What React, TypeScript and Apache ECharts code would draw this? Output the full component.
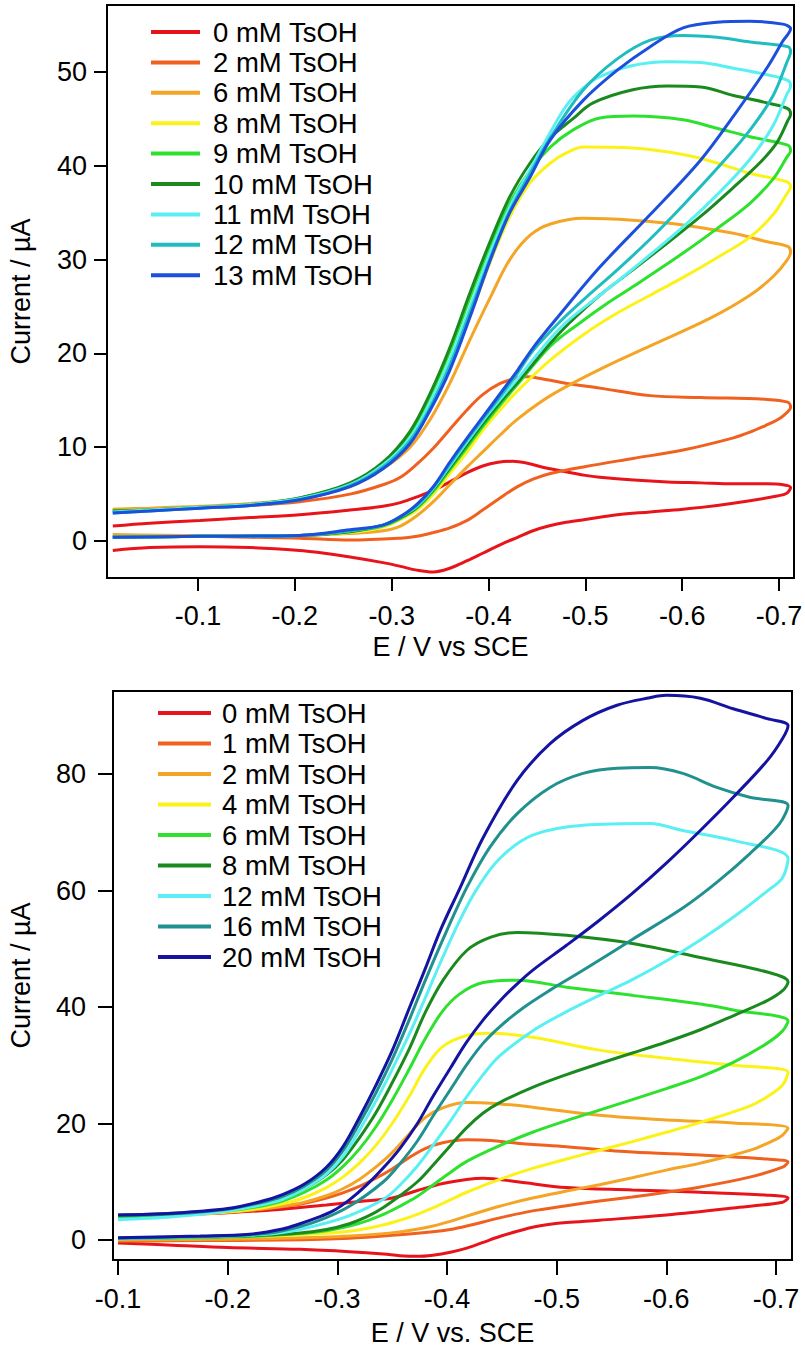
import React, { useEffect, useRef } from "react";
import * as echarts from "echarts";

const FONT = 'Arial, "Liberation Sans", Helvetica, sans-serif';

// ---------- top panel ----------
const topLabels = ["0 mM TsOH", "2 mM TsOH", "6 mM TsOH", "8 mM TsOH", "9 mM TsOH", "10 mM TsOH", "11 mM TsOH", "12 mM TsOH", "13 mM TsOH"];
const topColors = ["#e8141c", "#f0601e", "#f4a526", "#fbf21a", "#2ee12e", "#1a8a1f", "#5af0f3", "#1fbcc0", "#1c4fdc"];
const topXTicks = [-0.1, -0.2, -0.3, -0.4, -0.5, -0.6, -0.7];
const topYTicks = [0, 10, 20, 30, 40, 50];

const top0 = [[-0.012,1.6],[-0.05,1.9],[-0.102,2.2],[-0.154,2.5],[-0.205,2.8],[-0.257,3.3],[-0.291,3.7],[-0.309,4.1],[-0.326,4.7],[-0.343,5.4],[-0.36,6.3],[-0.378,7.3],[-0.394,8.0],[-0.41,8.4],[-0.425,8.5],[-0.44,8.3],[-0.455,7.9],[-0.474,7.5],[-0.5,7.0],[-0.515,6.8],[-0.55,6.5],[-0.585,6.3],[-0.619,6.2],[-0.653,6.1],[-0.688,6.1],[-0.704,6.0],[-0.712,5.7],
  [-0.708,5.1],[-0.698,4.8],[-0.67,4.3],[-0.636,3.8],[-0.601,3.4],[-0.567,3.1],[-0.533,2.8],[-0.5,2.3],[-0.48,2.0],[-0.462,1.6],[-0.446,1.1],[-0.43,0.4],[-0.412,-0.4],[-0.394,-1.3],[-0.378,-2.1],[-0.36,-2.9],[-0.343,-3.3],[-0.326,-3.1],[-0.309,-2.7],[-0.291,-2.3],[-0.257,-1.7],[-0.223,-1.2],[-0.205,-1.0],[-0.154,-0.7],[-0.102,-0.6],[-0.05,-0.7],[-0.012,-1.0]];
const top2 = [[-0.012,3.3],[-0.05,3.4],[-0.102,3.6],[-0.154,3.8],[-0.205,4.2],[-0.257,5.0],[-0.291,6.0],[-0.309,6.8],[-0.326,8.2],[-0.343,9.9],[-0.36,11.9],[-0.378,14.0],[-0.394,15.6],[-0.412,16.8],[-0.43,17.4],[-0.44,17.5],[-0.455,17.3],[-0.481,16.8],[-0.515,16.3],[-0.567,15.5],[-0.619,15.3],[-0.688,15.1],[-0.709,14.8],[-0.712,14.3],
  [-0.705,13.4],[-0.698,12.9],[-0.688,12.4],[-0.67,11.6],[-0.653,11.0],[-0.601,9.7],[-0.549,8.8],[-0.498,7.9],[-0.464,7.2],[-0.446,6.6],[-0.43,5.8],[-0.412,4.6],[-0.394,3.3],[-0.378,2.2],[-0.36,1.4],[-0.343,0.9],[-0.326,0.5],[-0.309,0.3],[-0.257,0.1],[-0.205,0.3],[-0.154,0.4],[-0.102,0.5],[-0.012,0.6]];
const top6 = [[-0.012,3.4],[-0.05,3.5],[-0.102,3.7],[-0.154,4.0],[-0.205,4.5],[-0.257,5.8],[-0.291,7.7],[-0.319,10.0],[-0.34,13.0],[-0.36,16.8],[-0.381,21.5],[-0.402,26.0],[-0.422,30.0],[-0.443,32.6],[-0.464,33.8],[-0.498,34.4],[-0.549,34.2],[-0.601,33.7],[-0.653,32.8],[-0.688,31.9],[-0.709,31.4],[-0.712,30.8],
  [-0.708,29.9],[-0.694,28.2],[-0.67,26.2],[-0.628,23.7],[-0.567,20.8],[-0.515,18.3],[-0.464,15.5],[-0.43,13.0],[-0.412,11.3],[-0.394,9.5],[-0.378,7.9],[-0.36,6.0],[-0.343,4.2],[-0.326,2.7],[-0.309,1.6],[-0.291,1.1],[-0.257,0.8],[-0.205,0.6],[-0.102,0.6],[-0.012,0.7]];
const top8 = [[-0.012,3.2],[-0.05,3.3],[-0.102,3.6],[-0.154,3.9],[-0.205,4.5],[-0.257,5.9],[-0.291,7.9],[-0.319,10.6],[-0.34,14.2],[-0.36,18.5],[-0.381,24.0],[-0.402,29.8],[-0.422,34.6],[-0.443,38.2],[-0.464,40.3],[-0.481,41.4],[-0.498,42.0],[-0.549,41.9],[-0.601,41.2],[-0.636,40.3],[-0.67,39.2],[-0.708,38.3],[-0.712,37.8],
  [-0.708,37.0],[-0.694,34.8],[-0.67,32.4],[-0.636,30.2],[-0.601,28.1],[-0.567,26.2],[-0.533,24.3],[-0.498,22.0],[-0.464,19.3],[-0.43,16.0],[-0.412,14.0],[-0.394,11.8],[-0.378,9.5],[-0.36,7.2],[-0.343,5.0],[-0.326,3.3],[-0.309,2.3],[-0.291,1.5],[-0.257,0.9],[-0.205,0.6],[-0.102,0.5],[-0.012,0.4]];
const top9 = [[-0.012,3.2],[-0.05,3.3],[-0.102,3.6],[-0.154,3.9],[-0.205,4.6],[-0.257,6.1],[-0.291,8.3],[-0.319,11.5],[-0.34,15.5],[-0.36,20.2],[-0.381,26.0],[-0.402,31.5],[-0.422,36.0],[-0.443,39.5],[-0.464,42.0],[-0.487,43.8],[-0.515,45.1],[-0.549,45.3],[-0.601,44.9],[-0.636,44.0],[-0.67,43.1],[-0.709,42.2],[-0.712,41.6],
  [-0.708,40.9],[-0.694,38.6],[-0.67,36.0],[-0.636,33.3],[-0.601,30.7],[-0.549,27.1],[-0.522,25.3],[-0.495,23.3],[-0.464,20.8],[-0.43,16.7],[-0.412,14.5],[-0.394,12.2],[-0.378,10.0],[-0.36,7.6],[-0.343,5.3],[-0.326,3.5],[-0.309,2.4],[-0.291,1.6],[-0.257,1.0],[-0.205,0.6],[-0.102,0.5],[-0.012,0.4]];
const top10 = [[-0.012,3.2],[-0.05,3.3],[-0.102,3.6],[-0.154,3.9],[-0.205,4.6],[-0.257,6.2],[-0.291,8.4],[-0.319,11.7],[-0.34,15.8],[-0.36,20.6],[-0.381,26.5],[-0.402,32.0],[-0.422,36.7],[-0.443,40.3],[-0.464,43.0],[-0.487,45.0],[-0.508,46.7],[-0.549,48.1],[-0.585,48.5],[-0.619,48.4],[-0.653,47.5],[-0.688,46.7],[-0.709,46.1],[-0.712,45.5],
  [-0.709,44.8],[-0.698,42.5],[-0.681,40.4],[-0.653,37.7],[-0.619,34.6],[-0.585,31.8],[-0.549,28.9],[-0.515,26.2],[-0.484,23.3],[-0.464,21.1],[-0.43,16.9],[-0.412,14.8],[-0.394,12.5],[-0.378,10.3],[-0.36,7.8],[-0.343,5.5],[-0.326,3.6],[-0.309,2.5],[-0.291,1.7],[-0.257,1.0],[-0.205,0.6],[-0.102,0.5],[-0.012,0.4]];
const top11 = [[-0.012,3.1],[-0.05,3.3],[-0.102,3.6],[-0.154,3.9],[-0.205,4.5],[-0.257,6.0],[-0.291,8.1],[-0.319,11.0],[-0.34,14.8],[-0.36,19.3],[-0.381,25.0],[-0.402,30.8],[-0.422,35.6],[-0.443,39.6],[-0.464,43.6],[-0.481,46.5],[-0.498,48.3],[-0.515,49.5],[-0.549,50.7],[-0.585,51.1],[-0.619,51.0],[-0.653,50.4],[-0.688,49.7],[-0.709,49.1],[-0.712,48.5],
  [-0.708,47.6],[-0.694,44.3],[-0.67,40.7],[-0.636,36.9],[-0.601,33.5],[-0.549,29.0],[-0.515,26.2],[-0.481,23.4],[-0.464,21.6],[-0.43,17.3],[-0.412,15.1],[-0.394,12.8],[-0.378,10.6],[-0.36,8.0],[-0.343,5.6],[-0.326,3.7],[-0.309,2.6],[-0.291,1.7],[-0.257,1.1],[-0.205,0.6],[-0.102,0.5],[-0.012,0.4]];
const top12 = [[-0.012,3.0],[-0.05,3.2],[-0.102,3.5],[-0.154,3.8],[-0.205,4.4],[-0.257,5.9],[-0.291,7.9],[-0.319,10.7],[-0.34,14.3],[-0.36,18.7],[-0.381,24.4],[-0.402,30.2],[-0.422,35.2],[-0.443,39.2],[-0.464,43.0],[-0.498,48.1],[-0.533,51.4],[-0.567,53.4],[-0.601,53.9],[-0.636,53.7],[-0.67,53.2],[-0.709,52.7],[-0.712,52.2],
  [-0.708,51.0],[-0.694,47.5],[-0.67,43.8],[-0.636,39.7],[-0.601,35.8],[-0.567,32.2],[-0.533,28.9],[-0.5,25.9],[-0.474,23.4],[-0.446,20.3],[-0.43,17.9],[-0.412,15.4],[-0.394,13.0],[-0.378,10.8],[-0.36,8.2],[-0.343,5.7],[-0.326,3.8],[-0.309,2.6],[-0.291,1.7],[-0.257,1.1],[-0.205,0.6],[-0.102,0.5],[-0.012,0.4]];
const top13 = [[-0.012,3.0],[-0.05,3.2],[-0.102,3.5],[-0.154,3.8],[-0.205,4.4],[-0.257,5.8],[-0.291,7.7],[-0.319,10.4],[-0.34,14.0],[-0.36,18.2],[-0.381,23.9],[-0.402,30.0],[-0.422,35.0],[-0.443,38.8],[-0.464,42.8],[-0.498,47.0],[-0.533,50.2],[-0.567,52.7],[-0.601,54.7],[-0.636,55.3],[-0.67,55.4],[-0.704,55.1],[-0.712,54.6],
  [-0.704,53.3],[-0.688,50.5],[-0.653,45.3],[-0.619,40.6],[-0.567,34.8],[-0.515,29.2],[-0.471,23.8],[-0.446,20.6],[-0.43,18.2],[-0.412,15.7],[-0.394,13.2],[-0.378,11.0],[-0.36,8.4],[-0.343,5.8],[-0.326,3.9],[-0.309,2.6],[-0.291,1.7],[-0.257,1.2],[-0.205,0.6],[-0.102,0.5],[-0.012,0.4]];
const topCurves = [top0, top2, top6, top8, top9, top10, top11, top12, top13];

// ---------- bottom panel ----------
const bottomLabels = ["0 mM TsOH", "1 mM TsOH", "2 mM TsOH", "4 mM TsOH", "6 mM TsOH", "8 mM TsOH", "12 mM TsOH", "16 mM TsOH", "20 mM TsOH"];
const bottomColors = ["#e8141c", "#f0601e", "#f4a526", "#fbf21a", "#2ee12e", "#1a8a1f", "#5af0f3", "#21918f", "#1414a0"];
const bottomXTicks = [-0.1, -0.2, -0.3, -0.4, -0.5, -0.6, -0.7];
const bottomYTicks = [0, 20, 40, 60, 80];

const bot0 = [[-0.1,4.0],[-0.15,4.3],[-0.2,4.7],[-0.25,5.3],[-0.29,6.0],[-0.32,6.6],[-0.35,7.2],[-0.373,8.5],[-0.396,9.7],[-0.418,10.4],[-0.433,10.6],[-0.464,10.0],[-0.509,9.0],[-0.569,8.6],[-0.631,8.2],[-0.692,7.7],[-0.711,7.2],
  [-0.706,6.5],[-0.661,5.5],[-0.6,4.3],[-0.539,3.4],[-0.509,3.0],[-0.494,2.7],[-0.478,2.2],[-0.464,1.5],[-0.448,0.6],[-0.433,-0.4],[-0.418,-1.4],[-0.403,-2.1],[-0.387,-2.6],[-0.373,-2.8],[-0.357,-2.7],[-0.342,-2.4],[-0.311,-2.0],[-0.266,-1.6],[-0.2,-1.3],[-0.15,-0.9],[-0.1,-0.5]];
const bot1 = [[-0.1,4.1],[-0.15,4.4],[-0.2,4.9],[-0.23,5.3],[-0.25,5.7],[-0.27,6.3],[-0.29,7.2],[-0.305,8.1],[-0.32,9.2],[-0.335,10.6],[-0.35,12.2],[-0.366,14.2],[-0.38,15.7],[-0.396,16.7],[-0.418,17.2],[-0.44,17.1],[-0.464,16.6],[-0.509,16.0],[-0.569,15.1],[-0.631,14.6],[-0.692,13.9],[-0.711,13.4],
  [-0.706,12.5],[-0.676,10.8],[-0.631,9.1],[-0.6,8.2],[-0.569,7.4],[-0.539,6.7],[-0.509,5.9],[-0.478,5.0],[-0.448,3.8],[-0.418,2.4],[-0.403,1.8],[-0.387,1.4],[-0.357,0.9],[-0.311,0.3],[-0.25,0.0],[-0.175,-0.1],[-0.1,-0.2]];
const bot2 = [[-0.1,4.0],[-0.15,4.3],[-0.2,4.8],[-0.23,5.3],[-0.25,5.8],[-0.27,6.5],[-0.29,7.6],[-0.305,8.8],[-0.32,10.4],[-0.335,12.5],[-0.35,15.0],[-0.366,18.3],[-0.38,21.0],[-0.396,22.7],[-0.418,23.6],[-0.44,23.5],[-0.478,22.8],[-0.539,21.4],[-0.6,20.6],[-0.661,20.1],[-0.711,19.2],
  [-0.706,18.0],[-0.699,17.2],[-0.676,15.4],[-0.631,13.2],[-0.6,12.0],[-0.569,10.7],[-0.539,9.5],[-0.509,8.4],[-0.478,7.2],[-0.448,5.8],[-0.418,4.1],[-0.403,3.2],[-0.387,2.4],[-0.357,1.4],[-0.311,0.7],[-0.25,0.3],[-0.175,0.1],[-0.1,0.0]];
const bot4 = [[-0.1,3.9],[-0.15,4.2],[-0.2,4.8],[-0.23,5.5],[-0.25,6.2],[-0.27,7.3],[-0.29,9.0],[-0.305,10.8],[-0.32,13.2],[-0.335,16.2],[-0.35,20.0],[-0.366,24.8],[-0.38,29.5],[-0.396,33.2],[-0.418,35.1],[-0.44,35.5],[-0.478,34.8],[-0.539,32.6],[-0.6,31.2],[-0.661,30.0],[-0.711,28.8],
  [-0.706,26.6],[-0.692,24.6],[-0.676,23.0],[-0.631,20.2],[-0.6,18.5],[-0.569,16.9],[-0.539,15.4],[-0.509,13.9],[-0.478,12.3],[-0.448,10.4],[-0.418,8.2],[-0.403,6.9],[-0.387,5.5],[-0.373,4.4],[-0.357,3.4],[-0.342,2.6],[-0.311,1.5],[-0.266,0.9],[-0.2,0.5],[-0.1,0.2]];
const bot6 = [[-0.1,3.9],[-0.15,4.3],[-0.2,5.0],[-0.23,5.8],[-0.25,6.7],[-0.27,8.2],[-0.29,10.3],[-0.305,12.6],[-0.32,15.6],[-0.335,19.4],[-0.35,24.0],[-0.366,29.5],[-0.38,34.5],[-0.396,39.3],[-0.412,42.3],[-0.433,44.2],[-0.464,44.6],[-0.509,43.4],[-0.569,42.0],[-0.631,40.5],[-0.661,39.5],[-0.711,37.6],
  [-0.706,35.9],[-0.692,33.8],[-0.661,30.5],[-0.631,28.0],[-0.6,26.0],[-0.569,24.1],[-0.539,22.3],[-0.509,20.5],[-0.478,18.5],[-0.448,16.2],[-0.418,13.5],[-0.403,11.6],[-0.387,9.4],[-0.373,7.5],[-0.357,5.8],[-0.342,4.4],[-0.327,3.3],[-0.311,2.4],[-0.29,1.6],[-0.266,1.1],[-0.23,0.7],[-0.175,0.4],[-0.1,0.2]];
const bot8 = [[-0.1,4.3],[-0.15,4.6],[-0.2,5.3],[-0.23,6.2],[-0.25,7.2],[-0.27,8.8],[-0.29,11.2],[-0.305,13.8],[-0.32,17.5],[-0.335,21.8],[-0.35,27.0],[-0.366,33.0],[-0.38,39.0],[-0.396,44.5],[-0.418,49.7],[-0.44,52.0],[-0.464,52.8],[-0.509,52.3],[-0.569,50.9],[-0.631,48.5],[-0.692,46.0],[-0.711,44.3],
  [-0.706,42.8],[-0.692,41.1],[-0.661,38.5],[-0.631,36.1],[-0.6,34.0],[-0.569,32.1],[-0.539,30.3],[-0.509,28.4],[-0.478,26.2],[-0.448,23.6],[-0.433,21.8],[-0.418,19.3],[-0.403,16.2],[-0.387,12.8],[-0.373,10.0],[-0.357,7.6],[-0.342,5.6],[-0.327,4.0],[-0.311,2.8],[-0.29,1.8],[-0.266,1.2],[-0.23,0.8],[-0.175,0.5],[-0.1,0.3]];
const bot12 = [[-0.1,3.5],[-0.15,4.0],[-0.2,5.0],[-0.23,6.0],[-0.25,7.0],[-0.27,8.8],[-0.29,11.3],[-0.305,14.3],[-0.32,18.8],[-0.335,23.8],[-0.35,29.3],[-0.366,35.5],[-0.38,41.5],[-0.396,48.5],[-0.412,55.0],[-0.427,60.2],[-0.448,65.5],[-0.478,69.5],[-0.524,71.2],[-0.585,71.5],[-0.615,70.3],[-0.661,68.6],[-0.711,65.5],
  [-0.706,62.2],[-0.692,59.9],[-0.661,55.4],[-0.631,51.5],[-0.6,47.9],[-0.569,44.7],[-0.539,42.0],[-0.509,39.2],[-0.478,35.9],[-0.448,31.6],[-0.433,28.4],[-0.418,24.6],[-0.403,20.4],[-0.387,16.2],[-0.373,12.7],[-0.357,9.4],[-0.342,7.0],[-0.311,4.2],[-0.281,2.5],[-0.25,1.3],[-0.22,0.8],[-0.175,0.5],[-0.1,0.2]];
const bot16 = [[-0.1,4.2],[-0.15,4.5],[-0.2,5.3],[-0.23,6.4],[-0.25,7.5],[-0.27,9.3],[-0.29,12.0],[-0.305,15.3],[-0.32,20.0],[-0.335,25.2],[-0.35,31.0],[-0.366,38.0],[-0.38,44.5],[-0.4,53.2],[-0.418,60.5],[-0.439,67.4],[-0.464,73.2],[-0.494,77.7],[-0.524,80.1],[-0.555,81.0],[-0.585,81.1],[-0.615,80.1],[-0.646,77.7],[-0.676,76.0],[-0.711,74.6],
  [-0.703,71.4],[-0.676,66.3],[-0.646,61.4],[-0.615,57.0],[-0.569,51.6],[-0.524,46.3],[-0.494,42.9],[-0.469,39.8],[-0.448,36.6],[-0.433,33.8],[-0.418,30.1],[-0.403,25.8],[-0.387,21.2],[-0.373,17.0],[-0.357,13.1],[-0.342,10.0],[-0.311,5.8],[-0.281,3.2],[-0.25,1.6],[-0.22,0.9],[-0.175,0.6],[-0.1,0.3]];
const bot20 = [[-0.1,4.3],[-0.15,4.6],[-0.2,5.4],[-0.23,6.6],[-0.25,7.8],[-0.27,9.6],[-0.29,12.5],[-0.305,16.0],[-0.32,21.0],[-0.335,26.5],[-0.35,32.5],[-0.366,40.0],[-0.38,46.5],[-0.394,53.2],[-0.412,60.5],[-0.433,69.1],[-0.464,78.9],[-0.494,85.2],[-0.524,89.2],[-0.555,91.8],[-0.585,93.1],[-0.6,93.5],[-0.631,93.0],[-0.661,91.2],[-0.692,89.5],[-0.711,88.3],
  [-0.706,86.1],[-0.692,82.3],[-0.661,76.0],[-0.631,70.3],[-0.6,64.7],[-0.569,59.5],[-0.539,54.9],[-0.509,50.6],[-0.478,46.3],[-0.463,43.8],[-0.448,41.0],[-0.433,37.8],[-0.418,34.0],[-0.403,29.5],[-0.387,24.6],[-0.373,20.0],[-0.357,15.7],[-0.342,12.4],[-0.327,9.5],[-0.311,6.9],[-0.296,5.0],[-0.281,3.8],[-0.266,2.8],[-0.25,1.9],[-0.22,1.0],[-0.175,0.7],[-0.1,0.4]];
const bottomCurves = [bot0, bot1, bot2, bot4, bot6, bot8, bot12, bot16, bot20];

type PanelCfg = {
  grid: { left: number; top: number; width: number; height: number };
  xRange: [number, number];
  yRange: [number, number];
  xTicks: number[];
  yTicks: number[];
  tickLen: number;
  xLabelMargin: number;
  yLabelMargin: number;
  xName: string;
  xNameGap: number;
  yNameGap: number;
  legend: { left: number; top: number; itemWidth: number; textPad: number; gap: number };
  labels: string[];
  colors: string[];
  curves: number[][][];
};

function buildOption(c: PanelCfg) {
  const axisLine = { show: true, onZero: false, lineStyle: { color: "#000", width: 2 } };
  const labelStyle = { color: "#000", fontSize: 27, fontFamily: FONT };
  return {
    animation: false,
    backgroundColor: "#fff",
    grid: {
      ...c.grid,
      show: true,
      borderColor: "#000",
      borderWidth: 2,
      containLabel: false,
      outerBoundsMode: "none",
    },
    legend: {
      orient: "vertical",
      left: c.legend.left,
      top: c.legend.top,
      icon: "rect",
      itemWidth: c.legend.itemWidth,
      itemHeight: 4,
      itemGap: c.legend.gap,
      selectedMode: false,
      padding: 0,
      data: c.labels,
      textStyle: { color: "#000", fontSize: 27.5, fontFamily: FONT, lineHeight: 30, padding: [0, 0, 0, c.legend.textPad] },
    },
    xAxis: {
      type: "value",
      inverse: true,
      min: c.xRange[0],
      max: c.xRange[1],
      axisLine,
      axisTick: { show: true, inside: false, length: c.tickLen, lineStyle: { color: "#000", width: 2 }, customValues: c.xTicks },
      axisLabel: { ...labelStyle, margin: c.xLabelMargin, customValues: c.xTicks, formatter: (v: number) => v.toFixed(1) },
      splitLine: { show: false },
      name: c.xName,
      nameLocation: "middle",
      nameGap: c.xNameGap,
      nameMoveOverlap: false,
      nameTextStyle: labelStyle,
    },
    yAxis: {
      type: "value",
      min: c.yRange[0],
      max: c.yRange[1],
      axisLine,
      axisTick: { show: true, inside: false, length: c.tickLen, lineStyle: { color: "#000", width: 2 }, customValues: c.yTicks },
      axisLabel: { ...labelStyle, margin: c.yLabelMargin, customValues: c.yTicks, formatter: (v: number) => String(Math.round(v)) },
      splitLine: { show: false },
      name: "Current / \u00b5A",
      nameLocation: "middle",
      nameGap: c.yNameGap,
      nameMoveOverlap: false,
      nameTextStyle: labelStyle,
    },
    series: c.curves.map((d, i) => ({
      type: "line",
      name: c.labels[i],
      data: d,
      color: c.colors[i],
      showSymbol: false,
      symbol: "none",
      smooth: 0.35,
      clip: true,
      lineStyle: { width: 3, color: c.colors[i] },
      emphasis: { disabled: true },
    })),
  };
}

const topCfg: PanelCfg = {
  grid: { left: 107, top: 5, width: 687, height: 573 },
  xRange: [-0.7155, -0.006],
  yRange: [-3.94, 57.14],
  xTicks: topXTicks,
  yTicks: topYTicks,
  tickLen: 13,
  xLabelMargin: 24,
  yLabelMargin: 20,
  xName: "E / V vs SCE",
  xNameGap: 55,
  yNameGap: 73,
  legend: { left: 151, top: 17, itemWidth: 49, textPad: 8, gap: 0.4 },
  labels: topLabels,
  colors: topColors,
  curves: topCurves,
};

const bottomCfg: PanelCfg = {
  grid: { left: 113, top: 26, width: 679, height: 569 },
  xRange: [-0.7146, -0.0954],
  yRange: [-3.43, 94.25],
  xTicks: bottomXTicks,
  yTicks: bottomYTicks,
  tickLen: 15,
  xLabelMargin: 25,
  yLabelMargin: 27,
  xName: "E / V vs. SCE",
  xNameGap: 59,
  yNameGap: 79,
  legend: { left: 158, top: 33, itemWidth: 53, textPad: 6, gap: 0.5 },
  labels: bottomLabels,
  colors: bottomColors,
  curves: bottomCurves,
};

function Panel({ cfg, top, height }: { cfg: PanelCfg; top: number; height: number }) {
  const ref = useRef<HTMLDivElement>(null);
  useEffect(() => {
    if (!ref.current) return;
    const chart = echarts.init(ref.current, undefined, { renderer: "svg" });
    chart.setOption(buildOption(cfg) as any);
    return () => chart.dispose();
  }, [cfg]);
  return <div ref={ref} style={{ position: "absolute", left: 0, top, width: 805, height }} />;
}

export default function App() {
  useEffect(() => {
    document.body.style.margin = "0";
  }, []);
  return (
    <div style={{ position: "absolute", left: 0, top: 0, width: 805, height: 1349, background: "#fff" }}>
      <Panel cfg={topCfg} top={0} height={665} />
      <Panel cfg={bottomCfg} top={665} height={684} />
    </div>
  );
}
